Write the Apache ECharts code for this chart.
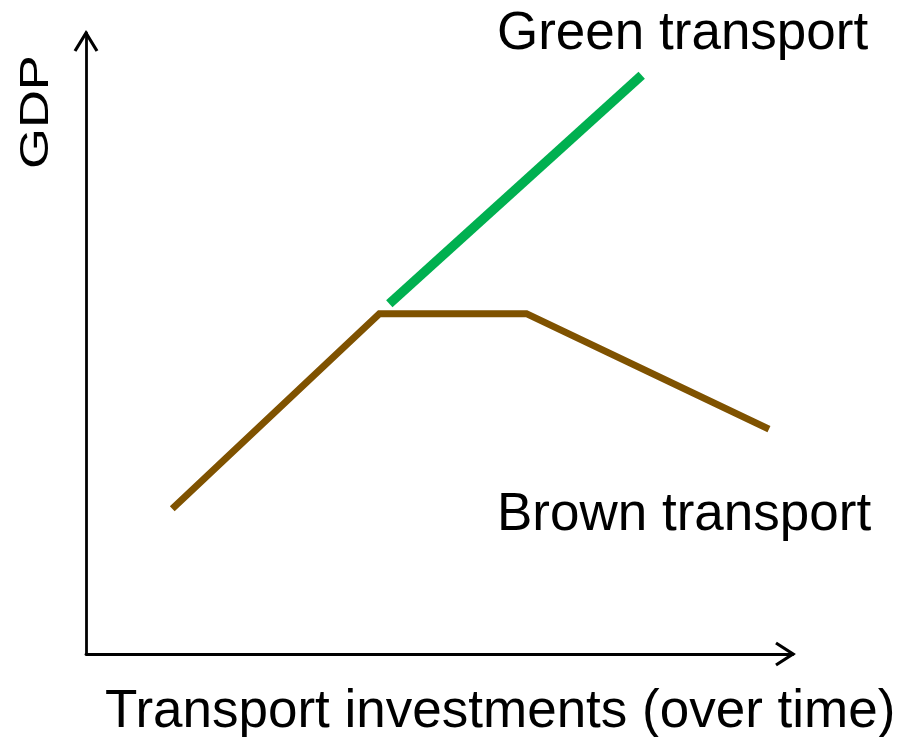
<!DOCTYPE html>
<html>
<head>
<meta charset="utf-8">
<script src="https://cdn.jsdelivr.net/npm/echarts@6/dist/echarts.min.js"></script>
<style>
html,body{margin:0;padding:0;background:#fff;}
#chart{width:910px;height:737px;}
</style>
</head>
<body>
<div id="chart"></div>
<script>
// Data (in arbitrary 0-100 units)
const brownX = [12.2, 41.5, 62.3, 96.6];
const brownY = [23.4, 54.8, 54.8, 36.2];
const greenX = [42.9, 78.6];
const greenY = [56.4, 93.2];
const xLabel = 'Transport investments (over time)';
const yLabel = 'GDP';
const greenLabel = 'Green transport';
const brownLabel = 'Brown transport';

const FONT = '"Liberation Sans", Arial, sans-serif';
const chart = echarts.init(document.getElementById('chart'), null, {renderer: 'canvas'});

const axisCommon = {
  type: 'value', min: 0, max: 100,
  axisLine: {show: true, onZero: false, lineStyle: {color: '#000', width: 2.8}},
  axisTick: {show: false}, axisLabel: {show: false}, splitLine: {show: false}
};

chart.setOption({
  animation: false,
  backgroundColor: '#fff',
  grid: {left: 86, right: 117, top: 33, bottom: 83},
  xAxis: axisCommon,
  yAxis: axisCommon,
  series: [
    {
      type: 'line', name: brownLabel, symbol: 'none',
      data: brownX.map((x, i) => [x, brownY[i]]),
      lineStyle: {color: '#7F5200', width: 7, cap: 'butt', join: 'miter'}
    },
    {
      type: 'line', name: greenLabel, symbol: 'none',
      data: greenX.map((x, i) => [x, greenY[i]]),
      lineStyle: {color: '#00B050', width: 9.5, cap: 'butt'}
    }
  ]
});

// Arrow heads and labels
const xEnd = chart.convertToPixel({gridIndex: 0}, [100, 0]);
const yEnd = chart.convertToPixel({gridIndex: 0}, [0, 100]);
const arrowStyle = {stroke: '#000', lineWidth: 3.2, fill: 'none', lineJoin: 'miter'};

chart.setOption({
  graphic: [
    {type: 'polyline', shape: {points: [[xEnd[0] - 17, xEnd[1] - 11], [xEnd[0], xEnd[1]], [xEnd[0] - 17, xEnd[1] + 11]]}, style: arrowStyle},
    {type: 'polyline', shape: {points: [[yEnd[0] - 11, yEnd[1] + 18], [yEnd[0], yEnd[1]], [yEnd[0] + 11, yEnd[1] + 18]]}, style: arrowStyle},
    {type: 'text', x: 497, y: 34, style: {text: greenLabel, font: '53px ' + FONT, fill: '#000', align: 'left', verticalAlign: 'middle'}},
    {type: 'text', x: 497, y: 515, style: {text: brownLabel, font: '53px ' + FONT, fill: '#000', align: 'left', verticalAlign: 'middle'}},
    {type: 'text', x: 105, y: 712, style: {text: xLabel, font: '53px ' + FONT, fill: '#000', align: 'left', verticalAlign: 'middle'}},
    {type: 'text', x: 37, y: 112, rotation: Math.PI / 2, scaleY: 0.76,
     style: {text: yLabel, font: '52.5px ' + FONT, fill: '#000', align: 'center', verticalAlign: 'middle'}}
  ]
});
</script>
</body>
</html>
